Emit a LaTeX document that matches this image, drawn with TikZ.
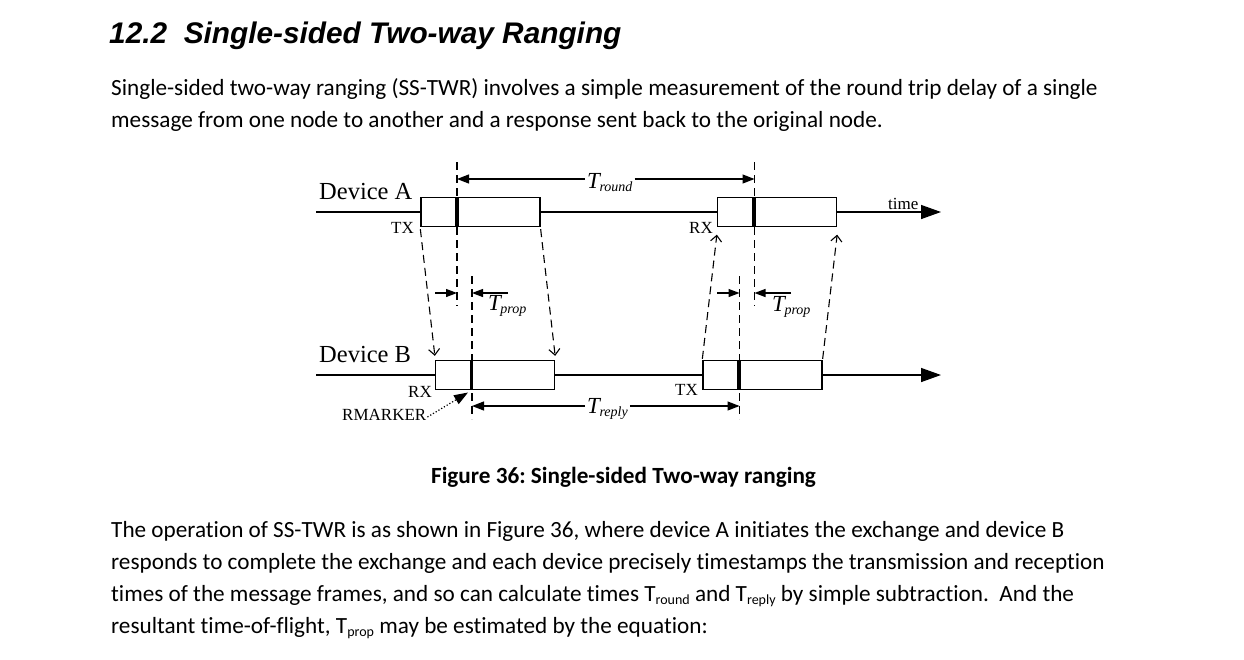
\documentclass[tikz,border=0pt]{standalone}
\usepackage{fontspec}
\setmainfont{Carlito}[Ligatures=NoCommon]
\newfontfamily\headfont{Liberation Sans}
\newfontfamily\figfont{Liberation Serif}
\usetikzlibrary{arrows.meta}
\frenchspacing

% italic T with a small italic subscript, as used for the time spans
\newcommand{\tspan}[1]{{\itshape\fontsize{23}{23}\selectfont T\kern-0.5pt\raisebox{-3.5pt}{\fontsize{14}{14}\selectfont #1}}}
% small lowered subscript for the running text
\newcommand{\bsub}[1]{\raisebox{-3.5pt}{\fontsize{14}{14}\selectfont #1}}

\begin{document}
\begin{tikzpicture}[x=1pt,y=-1pt,
  body/.style={anchor=base west, inner sep=0pt, font=\fontsize{23.2}{26}\selectfont},
  axis/.style={line width=1.4pt},
  frame/.style={draw, line width=1.3pt, fill=white, minimum width=119pt, minimum height=29pt, inner sep=0pt},
  marker/.style={line width=3.5pt},
  guide/.style={dash pattern=on 8pt off 5pt, line width=1.1pt},
  signal/.style={guide, -{Straight Barb[length=6pt,width=11pt,line width=1.1pt]}},
  span/.style={line width=1.2pt, -{Triangle[length=12pt,width=9pt]}},
  spansmall/.style={line width=1.2pt, -{Triangle[length=11pt,width=8pt]}},
  timeline/.style={axis, -{Triangle[length=20pt,width=14pt]}},
  lab/.style={inner sep=0pt, font=\figfont\fontsize{17}{17}\selectfont},
  devlab/.style={inner sep=0pt, anchor=base west, font=\figfont\fontsize{24.5}{24.5}\selectfont},
  tlab/.style={inner sep=0pt, anchor=base west, font=\figfont}
]
\fill[white] (0,0) rectangle (1244,659);
\useasboundingbox (0,0) rectangle (1244,659);

% ---- heading and text above the figure ----
\node[anchor=base west, inner sep=0pt, font=\headfont\bfseries\itshape\fontsize{29.8}{30}\selectfont]
  (head) at (109,43) {12.2\hspace{0.556em}Single-sided Two-way Ranging};
\node[body] (p1) at (111,95) {Single-sided two-way ranging (SS-TWR) involves a simple measurement of the round trip delay of a single};
\node[body] (p2) at (111,127) {message from one node to another and a response sent back to the original node.};

% ---- time lines of the two devices ----
\coordinate (aS) at (316,212);
\coordinate (aE) at (941,212);
\coordinate (bS) at (316,375);
\coordinate (bE) at (941,375);

\node[frame] (a1) at (480.5,212) {};
\node[frame] (a2) at (777,212) {};
\node[frame] (b1) at (495,375) {};
\node[frame] (b2) at (762.5,375) {};

\draw[axis] (aS) -- (a1.west);
\draw[axis] (a1.east) -- (a2.west);
\draw[timeline] (a2.east) -- (aE);
\draw[axis] (bS) -- (b1.west);
\draw[axis] (b1.east) -- (b2.west);
\draw[timeline] (b2.east) -- (bE);

% RMARKER positions inside each frame
\draw[marker] ([xshift=36.5pt]a1.north west) -- ([xshift=36.5pt]a1.south west);
\draw[marker] ([xshift=37pt]a2.north west) -- ([xshift=37pt]a2.south west);
\draw[marker] ([xshift=36.5pt]b1.north west) -- ([xshift=36.5pt]b1.south west);
\draw[marker] ([xshift=36.5pt]b2.north west) -- ([xshift=36.5pt]b2.south west);

% vertical reference lines through the markers
\draw[guide] (457,162) -- (457,306);
\draw[guide] (754.5,162) -- (754.5,306);
\draw[guide] (472,276) -- (472,419);
\draw[guide] (739.5,276) -- (739.5,419);

% frames travelling between the devices
\draw[signal] ([yshift=-2pt]a1.south west) -- ([yshift=4pt]b1.north west);
\draw[signal] ([yshift=-2pt]a1.south east) -- ([yshift=4pt]b1.north east);
\draw[signal] ([yshift=1pt]b2.north west) -- ([yshift=-7.5pt]a2.south west);
\draw[signal] ([yshift=1pt]b2.north east) -- ([yshift=-7.5pt]a2.south east);

% labels
\node[devlab] (devA) at (319,199) {Device A};
\node[devlab] (devB) at (319,362) {Device B};
\node[lab, anchor=base east] (txA) at (414,233) {TX};
\node[lab, anchor=base east] (rxA) at (713,233) {RX};
\node[lab, anchor=base west] (time) at (888,209) {time};
\node[lab, anchor=base east] (rxB) at (432,397) {RX};
\node[lab, anchor=base east] (txB) at (698,395) {TX};
\node[lab, anchor=base west] (rm) at (342,420) {RMARKER};
\coordinate (rmtip) at (468,392.5);
\draw[dotted, line width=1.2pt, -{Triangle[length=14pt,width=10pt]}] ([xshift=1pt,yshift=3pt]rm.base east) -- (rmtip);

% T_round
\node[tlab] (tround) at (587,188) {\tspan{round}};
\coordinate (r0) at (457,179);
\coordinate (r1) at (754.5,179);
\draw[span] ([xshift=-2pt]tround.west |- r0) -- (r0);
\draw[span] ([xshift=2pt]tround.east |- r1) -- (r1);

% T_prop on both sides
\node[tlab] (tpropA) at (488,310) {\tspan{prop}};
\draw[spansmall] (435,293) -- (457,293);
\draw[spansmall] (508,293) -- (472,293);
\node[tlab] (tpropB) at (772,311) {\tspan{prop}};
\draw[spansmall] (717,293) -- (739.5,293);
\draw[spansmall] (791,293) -- (754.5,293);

% T_reply
\node[tlab] (treply) at (587,413) {\tspan{reply}};
\coordinate (y0) at (472,406);
\coordinate (y1) at (739.5,406);
\draw[span] ([xshift=-2pt]treply.west |- y0) -- (y0);
\draw[span] ([xshift=2pt]treply.east |- y1) -- (y1);

% ---- caption and text below the figure ----
\node[anchor=base, inner sep=0pt, font=\bfseries\fontsize{23.2}{26}\selectfont] (cap) at (623.5,483) {Figure 36: Single-sided Two-way ranging};
\node[body] (q1) at (111,537) {The operation of SS-TWR is as shown in Figure 36, where device A initiates the exchange and device B};
\node[body] (q2) at (111,569) {responds to complete the exchange and each device precisely timestamps the transmission and reception};
\node[body] (q3) at (111,601) {times of the message frames, and so can calculate times T\bsub{round} and T\bsub{reply} by simple subtraction.\hspace{0.23em} And the};
\node[body] (q4) at (111,633) {resultant time-of-flight, T\bsub{prop} may be estimated by the equation:};
\end{tikzpicture}
\end{document}
